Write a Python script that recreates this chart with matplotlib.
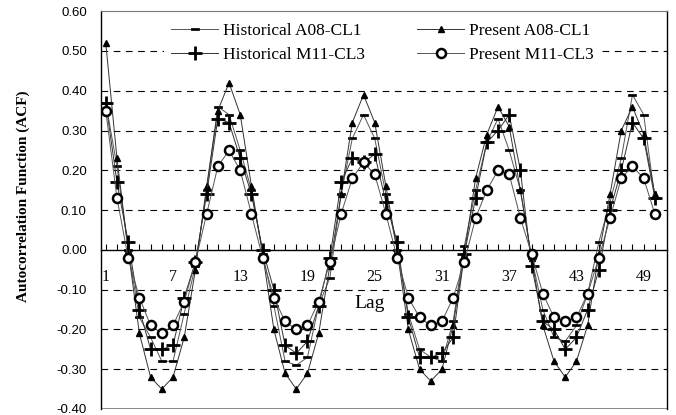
import matplotlib
matplotlib.use("Agg")
import matplotlib.pyplot as plt
import numpy as np

lags = list(range(1, 51))
hist_a08 = [0.37, 0.21, 0.00, -0.17, -0.22, -0.28, -0.28, -0.16, -0.04, 0.15,
            0.36, 0.34, 0.25, 0.15, -0.01, -0.14, -0.28, -0.29, -0.27, -0.14,
            -0.07, 0.14, 0.28, 0.34, 0.28, 0.14, 0.00, -0.16, -0.25, -0.27,
            -0.28, -0.18, 0.01, 0.15, 0.27, 0.33, 0.25, 0.15, -0.02, -0.15,
            -0.22, -0.23, -0.19, -0.11, 0.02, 0.12, 0.23, 0.39, 0.34, 0.13]
pres_a08 = [0.52, 0.23, 0.00, -0.21, -0.32, -0.35, -0.32, -0.22, -0.05, 0.16,
            0.35, 0.42, 0.34, 0.16, -0.01, -0.20, -0.31, -0.35, -0.31, -0.21,
            -0.04, 0.14, 0.32, 0.39, 0.32, 0.16, 0.00, -0.20, -0.30, -0.33,
            -0.30, -0.19, -0.01, 0.18, 0.29, 0.36, 0.31, 0.15, -0.02, -0.19,
            -0.28, -0.32, -0.28, -0.19, -0.01, 0.14, 0.30, 0.36, 0.29, 0.14]
hist_m11 = [0.37, 0.17, 0.02, -0.15, -0.25, -0.25, -0.24, -0.12, -0.03, 0.14,
            0.33, 0.32, 0.23, 0.14, 0.00, -0.10, -0.24, -0.26, -0.23, -0.14,
            -0.02, 0.17, 0.23, 0.22, 0.24, 0.12, 0.02, -0.17, -0.27, -0.27,
            -0.26, -0.22, -0.01, 0.13, 0.27, 0.30, 0.34, 0.20, -0.04, -0.18,
            -0.20, -0.25, -0.22, -0.15, -0.05, 0.10, 0.20, 0.32, 0.28, 0.13]
pres_m11 = [0.35, 0.13, -0.02, -0.12, -0.19, -0.21, -0.19, -0.13, -0.03, 0.09,
            0.21, 0.25, 0.20, 0.09, -0.02, -0.12, -0.18, -0.20, -0.19, -0.13,
            -0.03, 0.09, 0.18, 0.22, 0.19, 0.09, -0.02, -0.12, -0.17, -0.19,
            -0.18, -0.12, -0.03, 0.08, 0.15, 0.20, 0.19, 0.08, -0.01, -0.11,
            -0.17, -0.18, -0.17, -0.11, -0.02, 0.08, 0.18, 0.21, 0.18, 0.09]

labels = ["Historical A08-CL1", "Present A08-CL1", "Historical M11-CL3", "Present M11-CL3"]
xtick_labels = [1, 7, 13, 19, 25, 31, 37, 43, 49]
yticks = [-0.40, -0.30, -0.20, -0.10, 0.00, 0.10, 0.20, 0.30, 0.40, 0.50, 0.60]

serif = "Liberation Serif"
sans = "Liberation Sans"

fig = plt.figure(figsize=(6.76, 4.15), dpi=100)
ax = fig.add_axes([0.149, 0.0145, 0.838, 0.9585])

for y in yticks:
    if -0.40 < y < 0.60 and y != 0:
        ax.axhline(y, color="black", lw=0.8, ls=(0, (6, 5)), zorder=1)

dash_marker = [(-1, -0.35), (1, -0.35), (1, 0.35), (-1, 0.35), (-1, -0.35)]

h1, = ax.plot(lags, hist_a08, color="#555555", lw=0.7, marker=dash_marker, ms=5.5,
              mfc="black", mec="black", mew=0.5, label=labels[0], zorder=3)
h2, = ax.plot(lags, pres_a08, color="#333333", lw=0.7, marker="^", ms=5,
              mfc="black", mec="black", label=labels[1], zorder=3)
h3, = ax.plot(lags, hist_m11, color="#333333", lw=0.7, marker="+", ms=9.5,
              mew=2.0, mec="black", label=labels[2], zorder=3)
h4, = ax.plot(lags, pres_m11, color="#555555", lw=0.7, marker="o", ms=6.5,
              mfc="white", mec="black", mew=1.8, label=labels[3], zorder=3)

ax.set_xlim(0.55, 51.1)
ax.set_ylim(-0.40, 0.60)

# x axis along zero line
ax.spines["bottom"].set_position(("data", 0))
ax.spines["bottom"].set_linewidth(1.0)
ax.spines["top"].set_color("#777777")
ax.spines["left"].set_linewidth(1.0)
ax.spines["right"].set_linewidth(1.0)
ax.axhline(-0.40, color="#777777", lw=1.2, zorder=2)

ax.set_xticks(xtick_labels)
ax.set_xticklabels([str(v) for v in xtick_labels], fontfamily=serif, fontsize=11.5)
ax.set_xticks(lags, minor=True)
ax.tick_params(axis="x", which="both", direction="in", length=4, width=0.8, pad=14)

ax.set_yticks(yticks)
ax.set_yticklabels([f"{v:.2f}" for v in yticks], fontfamily=sans, fontsize=9.5)
ax.tick_params(axis="y", length=0, pad=10)

ax.set_ylabel("Autocorrelation Function (ACF)", fontfamily=serif, fontsize=11,
              fontweight="bold")
ax.yaxis.set_label_coords(-0.125, 0.535)
ax.text(24.5, -0.135, "Lag", fontfamily=serif, fontsize=14, ha="center", va="center")

leg = ax.legend([h1, h3, h2, h4], [labels[0], labels[2], labels[1], labels[3]],
                loc="upper left", bbox_to_anchor=(0.112, 0.988), ncol=2,
                frameon=True, fancybox=False, edgecolor="none", facecolor="white",
                framealpha=1, handlelength=2.7, handletextpad=0.3,
                columnspacing=3.0, labelspacing=0.45, borderpad=0.4,
                prop={"family": serif, "size": 12.5}, borderaxespad=0)

fig.savefig("out.png", dpi=100)
